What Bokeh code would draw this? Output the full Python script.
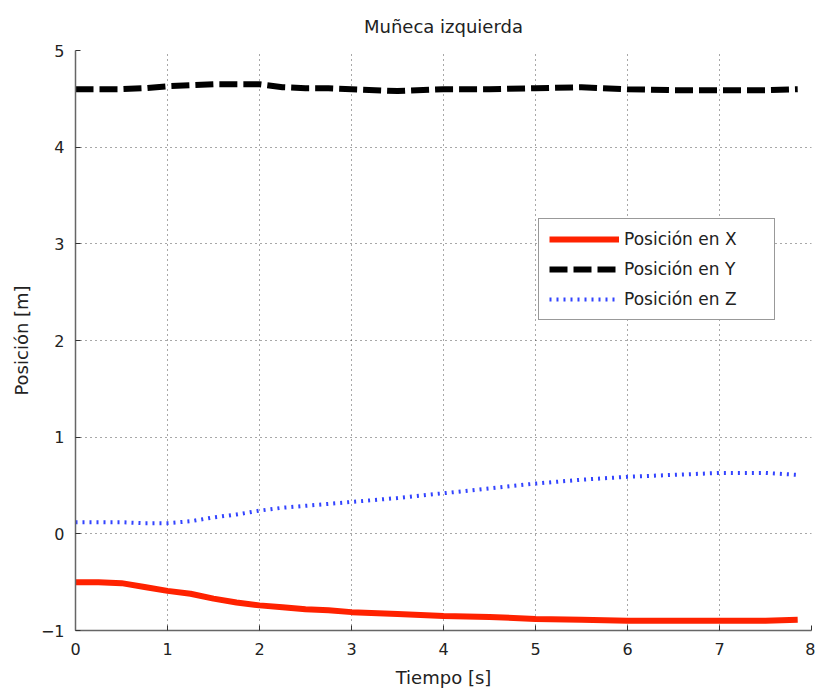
from bokeh.plotting import figure
from bokeh.embed import file_html
from bokeh.resources import INLINE
from bokeh.models import Legend, LegendItem, FixedTicker, Range1d

# ---- data ----
tiempo = [0.0, 0.25, 0.5, 0.75, 1.0, 1.25, 1.5, 1.75, 2.0, 2.25, 2.5, 2.75, 3.0,
          3.5, 4.0, 4.5, 5.0, 5.5, 6.0, 6.5, 7.0, 7.5, 7.85]
pos_x = [-0.50, -0.50, -0.51, -0.55, -0.59, -0.62, -0.67, -0.71, -0.74, -0.76, -0.78,
         -0.79, -0.81, -0.83, -0.85, -0.86, -0.88, -0.89, -0.90, -0.90, -0.90, -0.90, -0.89]
pos_y = [4.60, 4.60, 4.60, 4.61, 4.63, 4.64, 4.65, 4.65, 4.65, 4.62, 4.61, 4.61, 4.60,
         4.58, 4.60, 4.60, 4.61, 4.62, 4.60, 4.59, 4.59, 4.59, 4.60]
pos_z = [0.12, 0.12, 0.12, 0.11, 0.11, 0.13, 0.17, 0.20, 0.24, 0.27, 0.29, 0.31, 0.33,
         0.37, 0.42, 0.47, 0.52, 0.56, 0.59, 0.61, 0.63, 0.63, 0.61]
x_ticks = [0, 1, 2, 3, 4, 5, 6, 7, 8]
y_ticks = [-1, 0, 1, 2, 3, 4, 5]
titulo = "Muñeca izquierda"
etiquetas = ["Posición en X", "Posición en Y", "Posición en Z"]

FONT = "DejaVu Sans"

p = figure(width=815, height=691, output_backend="svg", toolbar_location=None,
           x_range=Range1d(0, 8), y_range=Range1d(-1, 5),
           title=titulo)
p.min_border_left = 75
p.min_border_right = 4
p.min_border_top = 50
p.min_border_bottom = 61
p.outline_line_color = None
p.background_fill_color = "white"
p.border_fill_color = "white"

p.title.align = "center"
p.title.text_font = FONT
p.title.text_font_style = "normal"
p.title.text_font_size = "18px"
p.title.text_color = "#222222"
p.title.standoff = 27

for ax in (p.xaxis[0], p.yaxis[0]):
    ax.major_label_text_font = FONT
    ax.major_label_text_font_size = "16px"
    ax.major_label_text_color = "#222222"
    ax.axis_label_text_font = FONT
    ax.axis_label_text_font_size = "18px"
    ax.axis_label_text_font_style = "normal"
    ax.axis_label_text_color = "#222222"
    ax.major_tick_in = 5
    ax.major_tick_out = 0
    ax.minor_tick_line_color = None
    ax.axis_line_color = "#666666"
    ax.axis_line_width = 1.5
    ax.major_tick_line_color = "#333333"

p.xaxis[0].ticker = FixedTicker(ticks=x_ticks)
p.yaxis[0].ticker = FixedTicker(ticks=y_ticks)
p.xaxis[0].axis_label = "Tiempo [s]"
p.yaxis[0].axis_label = "Posición [m]"
p.xaxis[0].major_label_standoff = 12
p.yaxis[0].major_label_standoff = 11
p.xaxis[0].axis_label_standoff = 9
p.yaxis[0].axis_label_standoff = 6

for g in (p.xgrid[0], p.ygrid[0]):
    g.grid_line_color = "#333333"
    g.grid_line_dash = "1 4"
    g.grid_line_width = 1
    g.grid_line_alpha = 0.85

rx = p.line(tiempo, pos_x, line_color="#ff2200", line_width=6)
ry = p.line(tiempo, pos_y, line_color="black", line_width=6, line_dash="18 6")
rz = p.line(tiempo, pos_z, line_color="#3344ff", line_width=4, line_dash="2 5")

legend = Legend(items=[LegendItem(label=etiquetas[0], renderers=[rx]),
                       LegendItem(label=etiquetas[1], renderers=[ry]),
                       LegendItem(label=etiquetas[2], renderers=[rz])],
                location=(463, 310))
legend.label_text_font = FONT
legend.label_text_font_size = "17px"
legend.label_text_color = "#222222"
legend.glyph_width = 70
legend.glyph_height = 20
legend.label_height = 20
legend.label_width = 140
legend.spacing = 10
legend.padding = 10
legend.margin = 0
legend.label_standoff = 5
legend.border_line_color = "#333333"
legend.border_line_width = 1.5
legend.background_fill_color = "white"
legend.background_fill_alpha = 1
p.add_layout(legend, "center")

open("out.html", "w").write(file_html(p, INLINE))
